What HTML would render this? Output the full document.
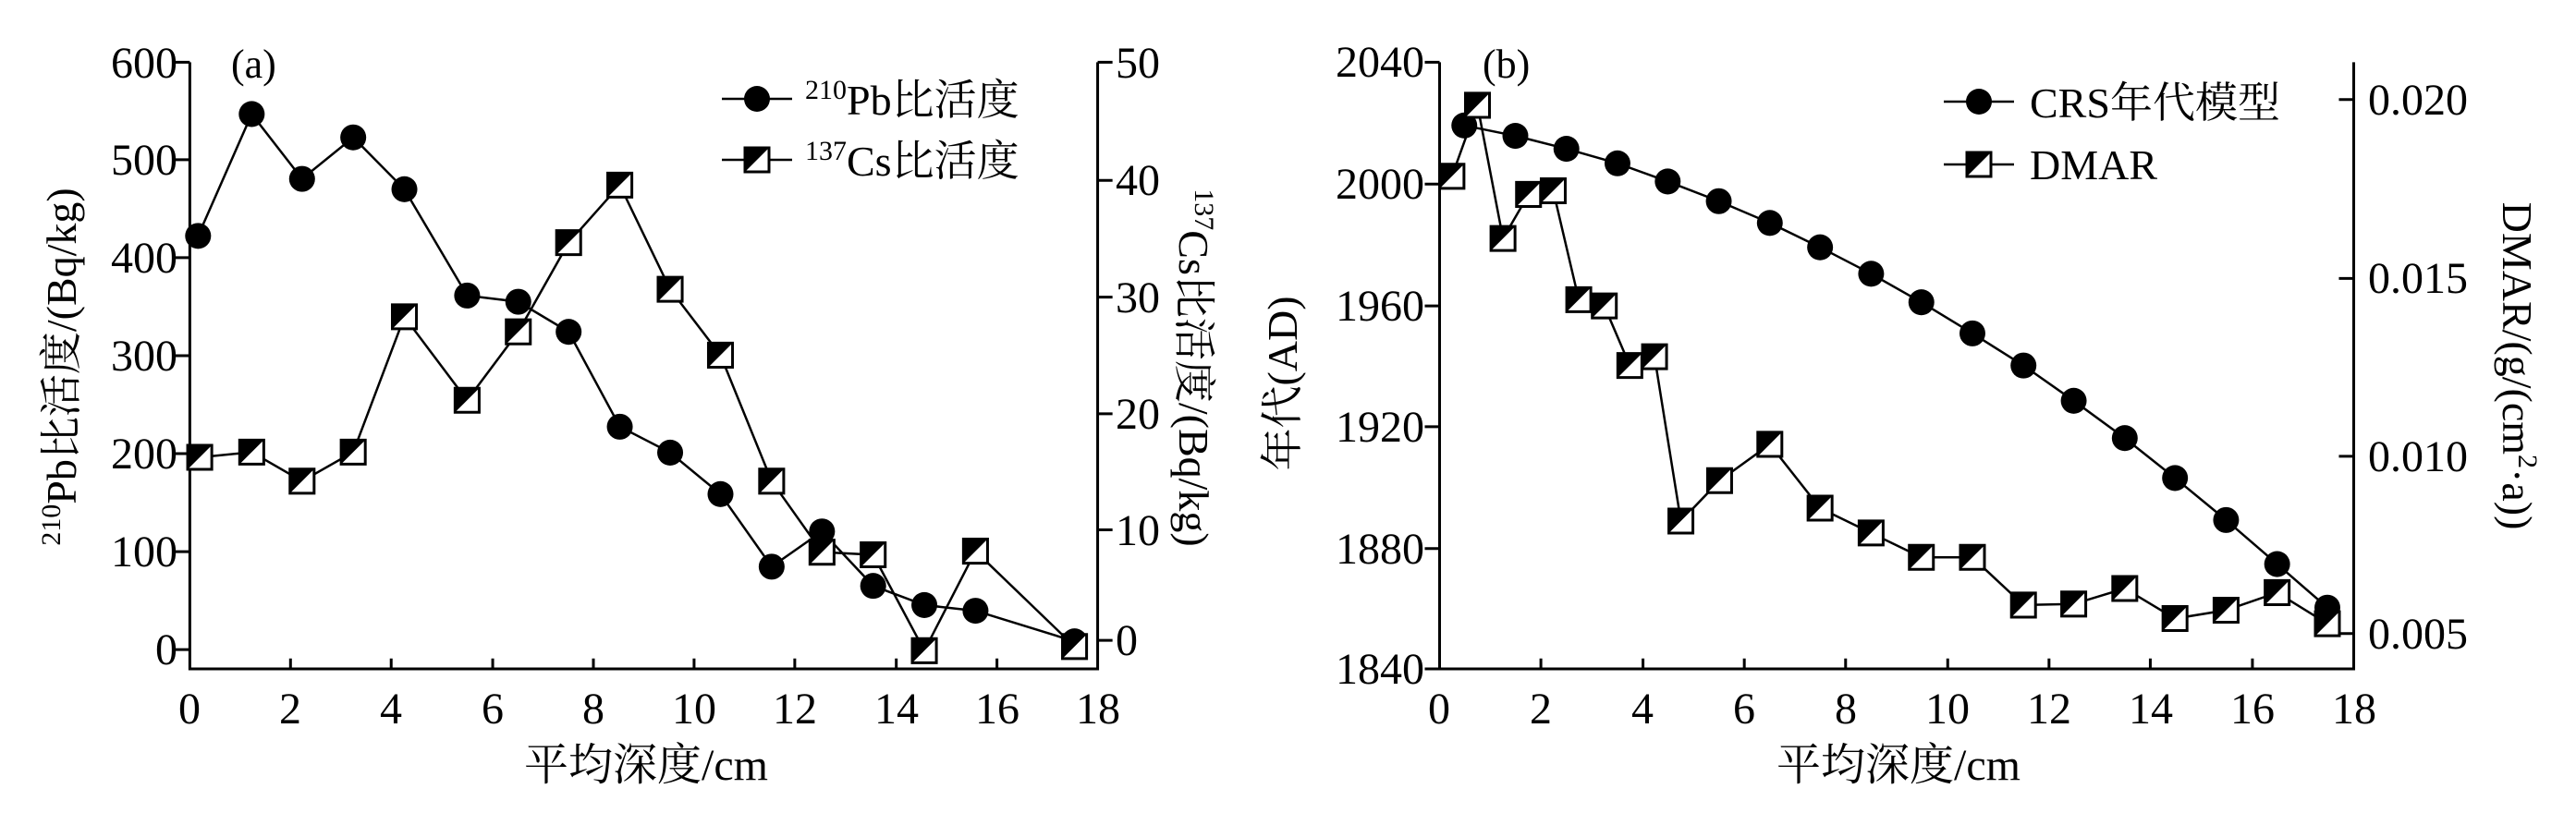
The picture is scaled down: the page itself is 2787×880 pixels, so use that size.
<!DOCTYPE html>
<html><head><meta charset="utf-8"><style>
html,body{margin:0;padding:0;background:#fff;}
svg{display:block;}
text{font-family:"Liberation Serif","Noto Serif CJK SC","Noto Sans CJK SC",serif;fill:#000;}
</style></head><body>
<svg width="2787" height="880" viewBox="0 0 2787 880" xmlns="http://www.w3.org/2000/svg">
<defs>
<g id="sq"><rect x="-14.6" y="-23.2" width="29.2" height="46.4" fill="#fff" stroke="#000" stroke-width="3" vector-effect="non-scaling-stroke"/><path d="M-14.6,-23.2 H14.6 L-14.6,23.2 Z" fill="#000"/></g>
<g id="ci"><ellipse rx="15.7" ry="25" fill="#000"/></g>
<g id="sq2"><rect x="-13" y="-13" width="26" height="26" fill="#fff" stroke="#000" stroke-width="3"/><path d="M-13,-13 H13 L-13,13 Z" fill="#000"/></g>
<g id="ci2"><circle r="14" fill="#000"/></g>
</defs>

<!-- Panel a geometry -->
<g transform="scale(0.8929,0.5612)">
<g stroke="#000" stroke-width="3" fill="none">
<path vector-effect="non-scaling-stroke" d="M230,120 V1290 H1330 V120"/>
<path vector-effect="non-scaling-stroke" d="M212,120H230M212,308H230M212,497H230M212,686H230M212,875H230M212,1064H230M212,1253H230"/>
<path vector-effect="non-scaling-stroke" d="M1330,120H1348M1330,348H1348M1330,573H1348M1330,798H1348M1330,1022H1348M1330,1235H1348"/>
<path vector-effect="non-scaling-stroke" d="M352,1290V1270M474,1290V1270M597,1290V1270M719,1290V1270M841,1290V1270M963,1290V1270M1086,1290V1270M1208,1290V1270"/>
</g>
<g stroke="#000" stroke-width="2.5" fill="none">
<polyline vector-effect="non-scaling-stroke" points="240,455 305,220 366,345 428,265 490,365 566,570 628,582 689,640 751,823 812,873 873,953 935,1093 996,1025 1058,1130 1120,1167 1182,1178 1302,1237"/>
<polyline vector-effect="non-scaling-stroke" points="242,882 305,872 366,928 428,872 490,611 566,772 628,640 689,468 751,357 812,558 873,685 935,928 996,1065 1058,1070 1120,1255 1182,1063 1302,1247"/>
</g>
<use href="#ci" x="240" y="455"/><use href="#ci" x="305" y="220"/><use href="#ci" x="366" y="345"/><use href="#ci" x="428" y="265"/><use href="#ci" x="490" y="365"/><use href="#ci" x="566" y="570"/><use href="#ci" x="628" y="582"/><use href="#ci" x="689" y="640"/><use href="#ci" x="751" y="823"/><use href="#ci" x="812" y="873"/><use href="#ci" x="873" y="953"/><use href="#ci" x="935" y="1093"/><use href="#ci" x="996" y="1025"/><use href="#ci" x="1058" y="1130"/><use href="#ci" x="1120" y="1167"/><use href="#ci" x="1182" y="1178"/><use href="#ci" x="1302" y="1237"/>
<use href="#sq" x="242" y="882"/><use href="#sq" x="305" y="872"/><use href="#sq" x="366" y="928"/><use href="#sq" x="428" y="872"/><use href="#sq" x="490" y="611"/><use href="#sq" x="566" y="772"/><use href="#sq" x="628" y="640"/><use href="#sq" x="689" y="468"/><use href="#sq" x="751" y="357"/><use href="#sq" x="812" y="558"/><use href="#sq" x="873" y="685"/><use href="#sq" x="935" y="928"/><use href="#sq" x="996" y="1065"/><use href="#sq" x="1058" y="1070"/><use href="#sq" x="1120" y="1255"/><use href="#sq" x="1182" y="1063"/><use href="#sq" x="1302" y="1247"/>
</g>

<!-- Panel b geometry -->
<g transform="translate(1390,0) scale(0.891,0.5612)">
<g stroke="#000" stroke-width="3" fill="none">
<path vector-effect="non-scaling-stroke" d="M188,120 V1290 H1298 V120"/>
<path vector-effect="non-scaling-stroke" d="M170,120H188M170,355H188M170,590H188M170,823H188M170,1058H188M170,1290H188"/>
<path vector-effect="non-scaling-stroke" d="M1280,192H1298M1280,537H1298M1280,880H1298M1280,1222H1298"/>
<path vector-effect="non-scaling-stroke" d="M311,1290V1270M435,1290V1270M558,1290V1270M681,1290V1270M805,1290V1270M928,1290V1270M1051,1290V1270M1175,1290V1270"/>
</g>
<g stroke="#000" stroke-width="2.5" fill="none">
<polyline vector-effect="non-scaling-stroke" points="218,242 280,262 342,287 404,315 465,350 527,388 589,430 650,477 712,528 773,583 835,643 897,705 958,773 1020,845 1081,922 1143,1003 1205,1088 1266,1172"/>
<polyline vector-effect="non-scaling-stroke" points="203,340 234,203 265,460 296,375 326,368 357,578 388,590 419,705 449,688 481,1005 528,927 589,857 650,980 712,1028 773,1075 835,1075 897,1167 958,1165 1020,1135 1081,1193 1143,1177 1205,1143 1266,1203"/>
</g>
<use href="#ci" x="218" y="242"/><use href="#ci" x="280" y="262"/><use href="#ci" x="342" y="287"/><use href="#ci" x="404" y="315"/><use href="#ci" x="465" y="350"/><use href="#ci" x="527" y="388"/><use href="#ci" x="589" y="430"/><use href="#ci" x="650" y="477"/><use href="#ci" x="712" y="528"/><use href="#ci" x="773" y="583"/><use href="#ci" x="835" y="643"/><use href="#ci" x="897" y="705"/><use href="#ci" x="958" y="773"/><use href="#ci" x="1020" y="845"/><use href="#ci" x="1081" y="922"/><use href="#ci" x="1143" y="1003"/><use href="#ci" x="1205" y="1088"/><use href="#ci" x="1266" y="1172"/>
<use href="#sq" x="203" y="340"/><use href="#sq" x="234" y="203"/><use href="#sq" x="265" y="460"/><use href="#sq" x="296" y="375"/><use href="#sq" x="326" y="368"/><use href="#sq" x="357" y="578"/><use href="#sq" x="388" y="590"/><use href="#sq" x="419" y="705"/><use href="#sq" x="449" y="688"/><use href="#sq" x="481" y="1005"/><use href="#sq" x="528" y="927"/><use href="#sq" x="589" y="857"/><use href="#sq" x="650" y="980"/><use href="#sq" x="712" y="1028"/><use href="#sq" x="773" y="1075"/><use href="#sq" x="835" y="1075"/><use href="#sq" x="897" y="1167"/><use href="#sq" x="958" y="1165"/><use href="#sq" x="1020" y="1135"/><use href="#sq" x="1081" y="1193"/><use href="#sq" x="1143" y="1177"/><use href="#sq" x="1205" y="1143"/><use href="#sq" x="1266" y="1203"/>
</g>

<!-- Legends -->
<g stroke="#000" stroke-width="2.5"><path d="M781,107H857M781,173H857M2103,110H2179M2103,178H2179"/></g>
<use href="#ci2" x="819" y="107"/><use href="#sq2" x="819" y="173"/>
<use href="#ci2" x="2141" y="110"/><use href="#sq2" x="2141" y="178"/>

<!-- Panel a text -->
<g font-size="48" text-anchor="end">
<text x="192" y="84">600</text><text x="192" y="189">500</text><text x="192" y="295">400</text><text x="192" y="401">300</text><text x="192" y="507">200</text><text x="192" y="613">100</text><text x="192" y="719">0</text>
</g>
<g font-size="48">
<text x="1207" y="84">50</text><text x="1207" y="211">40</text><text x="1207" y="338">30</text><text x="1207" y="464">20</text><text x="1207" y="590">10</text><text x="1207" y="709">0</text>
</g>
<g font-size="48" text-anchor="middle">
<text x="205" y="783">0</text><text x="314" y="783">2</text><text x="423" y="783">4</text><text x="533" y="783">6</text><text x="642" y="783">8</text><text x="751" y="783">10</text><text x="860" y="783">12</text><text x="970" y="783">14</text><text x="1079" y="783">16</text><text x="1188" y="783">18</text>
</g>
<text x="250" y="84" font-size="44">(a)</text>
<text x="871" y="124" font-size="46"><tspan font-size="30" dy="-17">210</tspan><tspan dy="17">Pb比活度</tspan></text>
<text x="871" y="190" font-size="46"><tspan font-size="30" dy="-17">137</tspan><tspan dy="17">Cs比活度</tspan></text>
<text x="699" y="844" font-size="48" text-anchor="middle">平均深度/cm</text>
<text transform="translate(82,397) rotate(-90)" font-size="46" text-anchor="middle"><tspan font-size="30" dy="-17">210</tspan><tspan dy="17">Pb比活度/(Bq/kg)</tspan></text>
<text transform="translate(1276,398) rotate(90)" font-size="46" text-anchor="middle"><tspan font-size="30" dy="-17">137</tspan><tspan dy="17">Cs比活度/(Bq/kg)</tspan></text>

<!-- Panel b text -->
<g font-size="48" text-anchor="end">
<text x="1541" y="83">2040</text><text x="1541" y="215">2000</text><text x="1541" y="347">1960</text><text x="1541" y="478">1920</text><text x="1541" y="610">1880</text><text x="1541" y="740">1840</text>
</g>
<g font-size="48">
<text x="2562" y="124">0.020</text><text x="2562" y="317">0.015</text><text x="2562" y="510">0.010</text><text x="2562" y="702">0.005</text>
</g>
<g font-size="48" text-anchor="middle">
<text x="1557" y="783">0</text><text x="1667" y="783">2</text><text x="1777" y="783">4</text><text x="1887" y="783">6</text><text x="1997" y="783">8</text><text x="2107" y="783">10</text><text x="2217" y="783">12</text><text x="2327" y="783">14</text><text x="2437" y="783">16</text><text x="2547" y="783">18</text>
</g>
<text x="1604" y="84" font-size="44">(b)</text>
<text x="2196" y="127" font-size="46">CRS年代模型</text>
<text x="2196" y="194" font-size="46">DMAR</text>
<text x="2054" y="844" font-size="48" text-anchor="middle">平均深度/cm</text>
<text transform="translate(1403,415) rotate(-90)" font-size="46" text-anchor="middle">年代(AD)</text>
<text transform="translate(2708,396) rotate(90)" font-size="46" text-anchor="middle">DMAR/(g/(cm<tspan font-size="30" dy="-17">2</tspan><tspan dy="17">·a))</tspan></text>
</svg>
</body></html>
